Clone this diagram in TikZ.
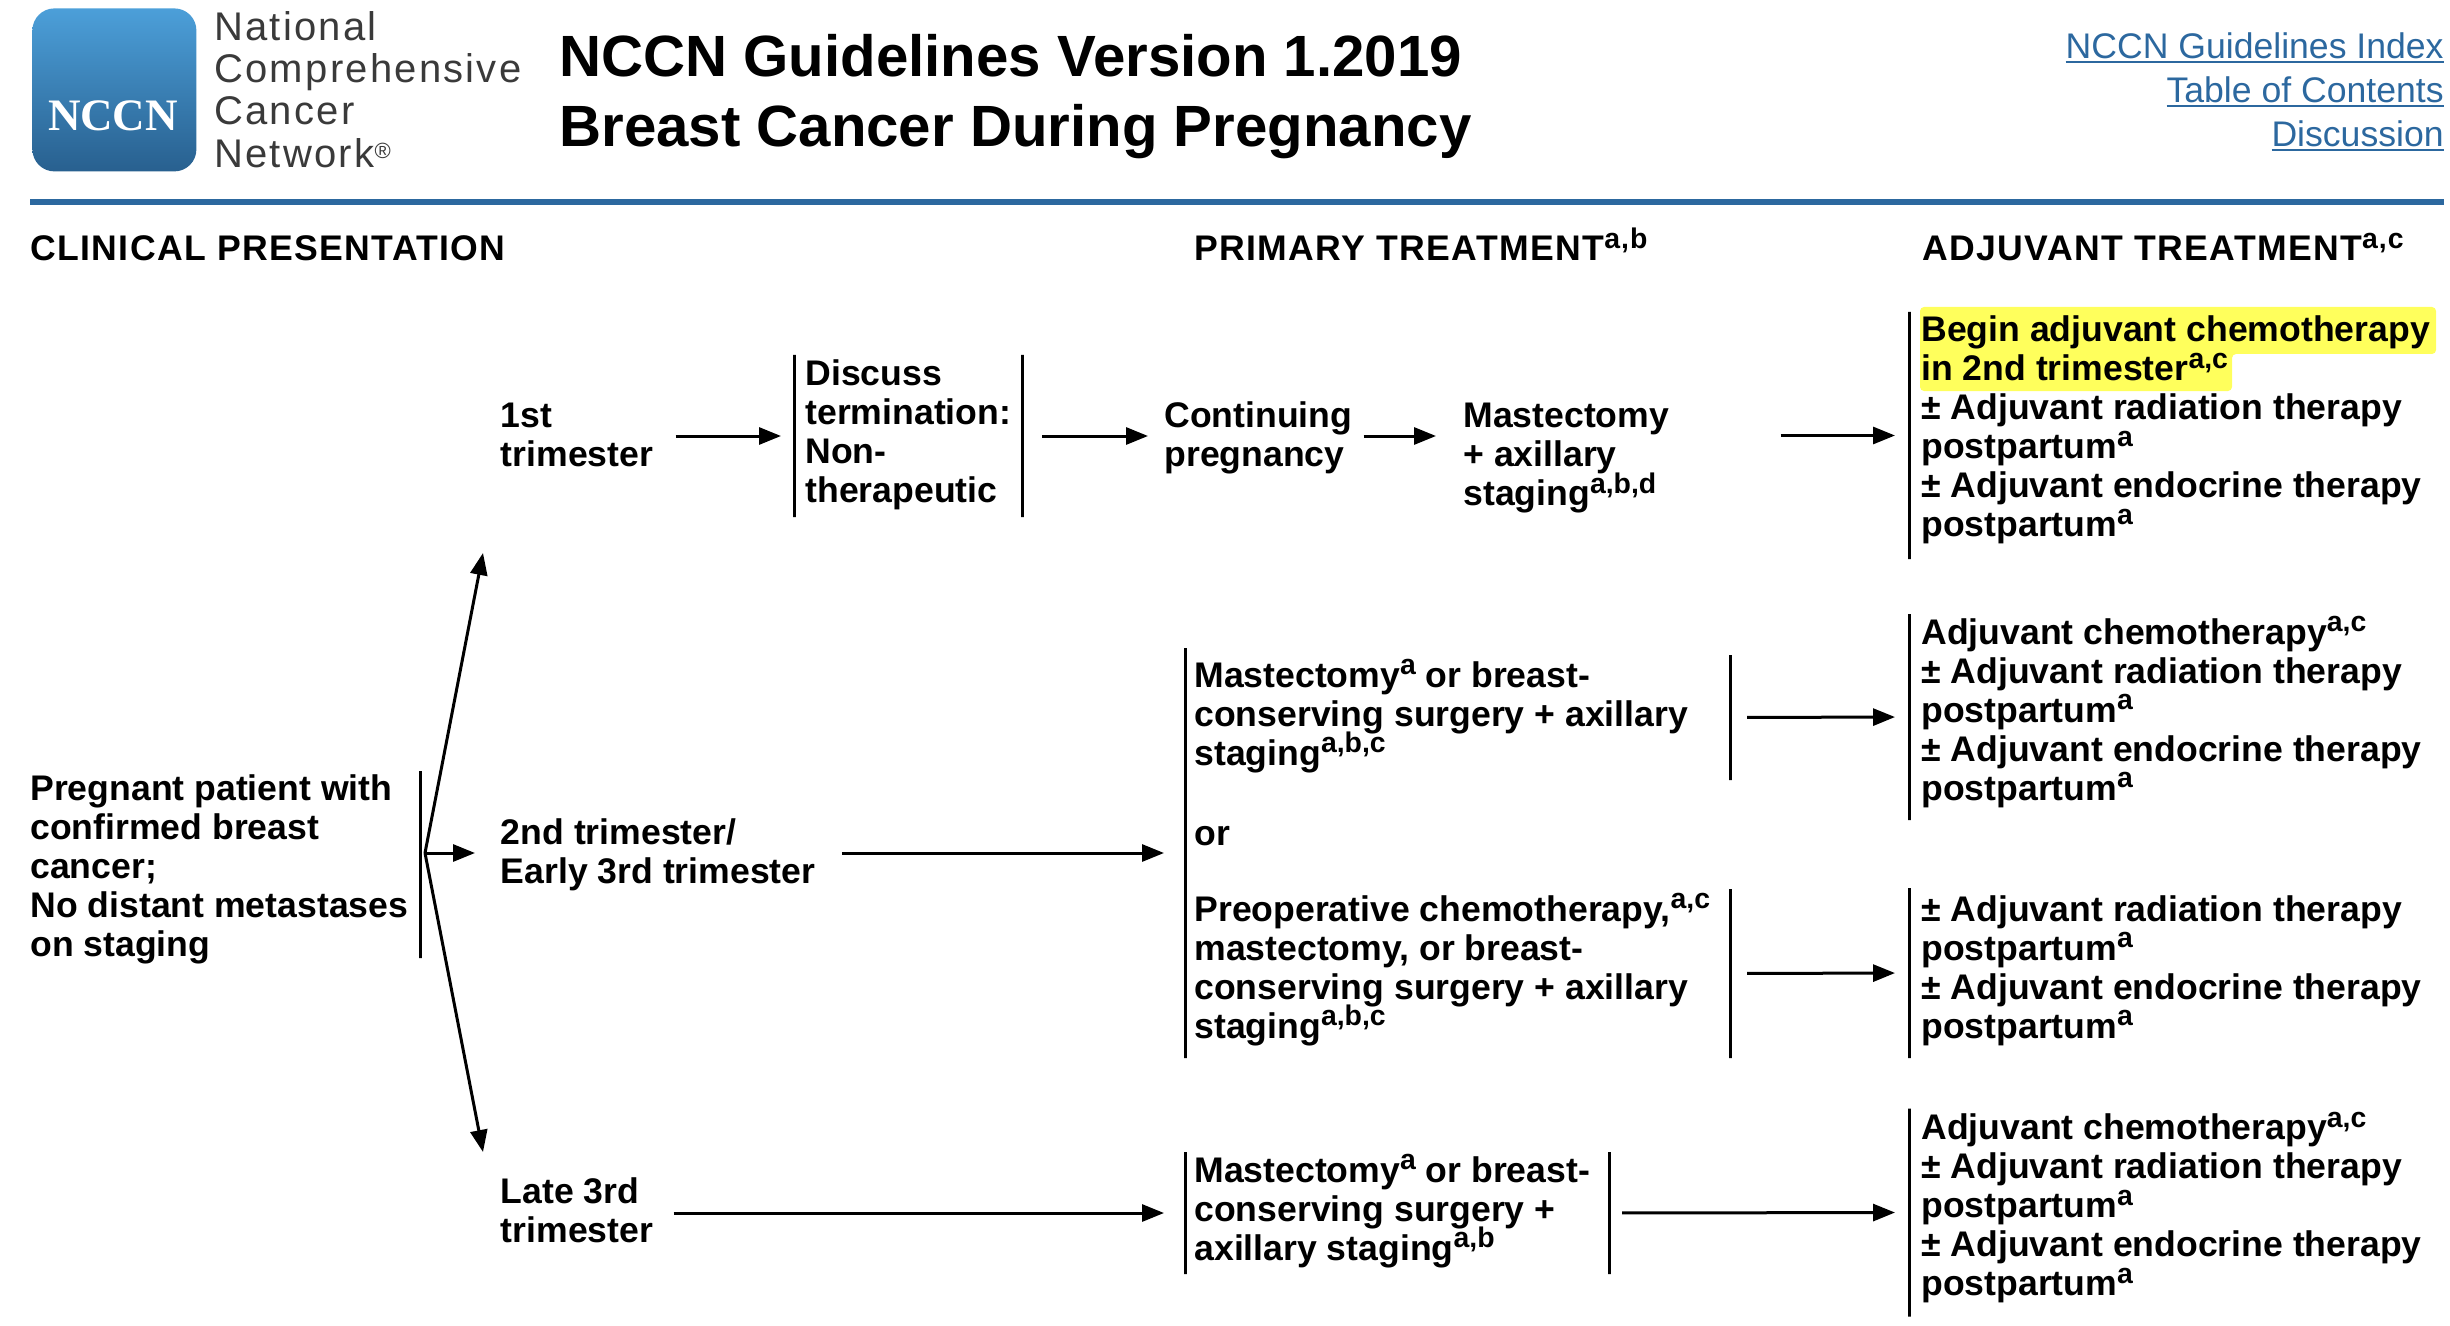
\documentclass[tikz,border=0pt]{standalone}
\usepackage{fontspec}
\setmainfont{Liberation Sans}
\newfontfamily\headfont[LetterSpace=3.8]{Liberation Sans}
\newfontfamily\orgfont[LetterSpace=5.6]{Liberation Sans}
\newfontfamily\crestfont{Liberation Serif}
\usetikzlibrary{arrows.meta,positioning}
\definecolor{nccnblue}{HTML}{2C689F}
\definecolor{crestlight}{HTML}{4C9FD9}
\definecolor{crestdark}{HTML}{28608F}
\definecolor{orggray}{HTML}{3A3A3A}
\definecolor{marker}{HTML}{FFFF5C}
\newcommand{\fnote}[1]{\smash{\raisebox{6.3pt}{\fontsize{14.2}{14.2}\selectfont #1}}}
\newcommand{\linktext}[1]{\setbox0\hbox{#1}\rlap{\rule[-2.6pt]{\wd0}{1pt}}\box0}
\tikzset{
  txt/.style={
    font=\fontsize{17.8}{19.5}\selectfont\bfseries,
    anchor=north west,
    align=left,
    inner sep=0pt,
    execute at begin node=\strut
  },
  heading/.style={
    font=\fontsize{17.8}{19.5}\selectfont\bfseries\headfont,
    anchor=base west,
    inner sep=0pt
  },
  bar/.style={
    draw=black,
    line width=1.5pt,
    inner sep=0pt,
    outer sep=0pt,
    minimum width=0pt,
    minimum height=#1*0.5pt
  },
  arrow/.style={
    -{Triangle[length=11pt,width=8.5pt]},
    draw=black,
    line width=1.5pt
  },
  gap/.style 2 args={
    shorten <=#1*0.5pt,
    shorten >=#2*0.5pt
  }
}
\begin{document}
\begin{tikzpicture}[x=0.5pt,y=-0.5pt]
\path[use as bounding box] (0,0) rectangle (2450,1326);

% Letterhead.
\node[anchor=north west, inner sep=0pt, minimum width=82pt, minimum height=81.5pt,
  rounded corners=11pt, top color=crestlight, bottom color=crestdark] (crest) at (32,8) {};
\node[anchor=base, inner sep=0pt, text=white,
  font=\fontsize{22.5}{22.5}\selectfont\crestfont\bfseries] (crestname) at (113,130.5) {NCCN};
\node[txt, text=orggray, font=\fontsize{20}{21.15}\selectfont\orgfont] (org) at (214,11)
  {National\\Comprehensive\\Cancer\\Network\smash{\raisebox{4.5pt}{\fontsize{11}{11}\selectfont ®}}};
\node[txt, font=\fontsize{29.1}{35}\selectfont\bfseries] (title) at (559,33.5)
  {NCCN Guidelines Version 1.2019\\Breast Cancer During Pregnancy};
\node[txt, anchor=north east, align=right, text=nccnblue, font=\fontsize{17.8}{22}\selectfont] (links) at (2444,32)
  {\linktext{NCCN Guidelines Index}\\\linktext{Table of Contents}\\\linktext{Discussion}};
\fill[nccnblue] (30,199) rectangle (2444,205);

% Column headings.
\node[heading] (headclin) at (30,261) {CLINICAL PRESENTATION};
\node[heading] (headprim) at (1194,261) {PRIMARY TREATMENT\fnote{a,b}};
\node[heading] (headadj) at (1922,261) {ADJUVANT TREATMENT\fnote{a,c}};

% Marker stroke goes under the first adjuvant lines.
\fill[marker, rounded corners=2pt] (1920,307) -- (2436,307) -- (2436,354) -- (2232,354)
  -- (2232,391) -- (1920,391) -- cycle;

% Presentation and trimester split.
\node[txt] (patient) at (30,774.5)
  {Pregnant patient with\\confirmed breast\\cancer;\\No distant metastases\\on staging};
\node[bar=187] (patientbar) at (420,864.5) {};
\node[txt] (firsttri) at (500.5,402.5) {1st\\trimester};
\node[txt] (secondtri) at (500.5,818) {2nd trimester/\\Early 3rd trimester};
\node[txt] (latetri) at (500.5,1177.5) {Late 3rd\\trimester};
\coordinate (fan) at (425,853);
\coordinate (fanup) at (483,553);
\coordinate (fanmid) at (475,853);
\coordinate (fandown) at (483,1152);

% First trimester row.
\node[bar=162] (discussl) at (794,436) {};
\node[bar=162] (discussr) at (1022,436) {};
\node[txt] (discuss) at (805,359) {Discuss\\termination:\\Non-\\therapeutic};
\node[txt] (continuing) at (1164,401.5) {Continuing\\pregnancy};
\node[txt] (mastfirst) at (1463,403) {Mastectomy\\+ axillary\\staging\fnote{a,b,d}};
\node[bar=247] (adjfirstbar) at (1909,435.5) {};
\node[txt] (adjfirst) at (1921,315.5)
  {Begin adjuvant chemotherapy\\in 2nd trimester\fnote{a,c}\\± Adjuvant radiation therapy\\postpartum\fnote{a}\\± Adjuvant endocrine therapy\\postpartum\fnote{a}};

% Second trimester / early third trimester row.
\node[bar=410] (primbar) at (1185,853) {};
\node[txt] (surgery) at (1194,661)
  {Mastectomy\fnote{a} or breast-\\conserving surgery + axillary\\staging\fnote{a,b,c}};
\node[txt] (ortext) at (1194,818) {or};
\node[txt] (preop) at (1194,895)
  {Preoperative chemotherapy,\fnote{a,c}\\mastectomy, or breast-\\conserving surgery + axillary\\staging\fnote{a,b,c}};
\node[bar=125] (surgerybar) at (1730,717.5) {};
\node[bar=169] (preopbar) at (1730,973.5) {};
\node[bar=206] (adjsurgbar) at (1909,717) {};
\node[bar=170] (adjpreopbar) at (1909,973) {};
\node[txt] (adjsurg) at (1921,618)
  {Adjuvant chemotherapy\fnote{a,c}\\± Adjuvant radiation therapy\\postpartum\fnote{a}\\± Adjuvant endocrine therapy\\postpartum\fnote{a}};
\node[txt] (adjpreop) at (1921,895)
  {± Adjuvant radiation therapy\\postpartum\fnote{a}\\± Adjuvant endocrine therapy\\postpartum\fnote{a}};

% Late third trimester row.
\node[bar=122] (latel) at (1185,1213) {};
\node[bar=122] (later) at (1609,1213) {};
\node[txt] (mastlate) at (1194,1156)
  {Mastectomy\fnote{a} or breast-\\conserving surgery +\\axillary staging\fnote{a,b}};
\node[bar=208] (adjlatebar) at (1909,1212.5) {};
\node[txt] (adjlate) at (1921,1113.5)
  {Adjuvant chemotherapy\fnote{a,c}\\± Adjuvant radiation therapy\\postpartum\fnote{a}\\± Adjuvant endocrine therapy\\postpartum\fnote{a}};

% Arrows.
\draw[arrow] (fan) -- (fanup);
\draw[arrow] (fan) -- (fanmid);
\draw[arrow] (fan) -- (fandown);
\draw[arrow, gap={22}{13}] (firsttri.east |- discussl) -- (discussl);
\draw[arrow, gap={20}{16}] (discussr) -- (continuing.west |- discussr);
\draw[arrow, gap={11}{27}] (continuing.east |- discussr) -- (mastfirst.west |- discussr);
\draw[arrow, gap={111}{14}] (mastfirst.east |- adjfirstbar) -- (adjfirstbar);
\draw[arrow, gap={26}{21}] (secondtri.east |- primbar) -- (primbar);
\draw[arrow, gap={17}{14}] (surgerybar) -- (adjsurgbar);
\draw[arrow, gap={17}{14}] (preopbar) -- (adjpreopbar);
\draw[arrow, gap={20}{21}] (latetri.east |- latel) -- (latel);
\draw[arrow, gap={13}{14}] (later) -- (adjlatebar);

\end{tikzpicture}
\end{document}
